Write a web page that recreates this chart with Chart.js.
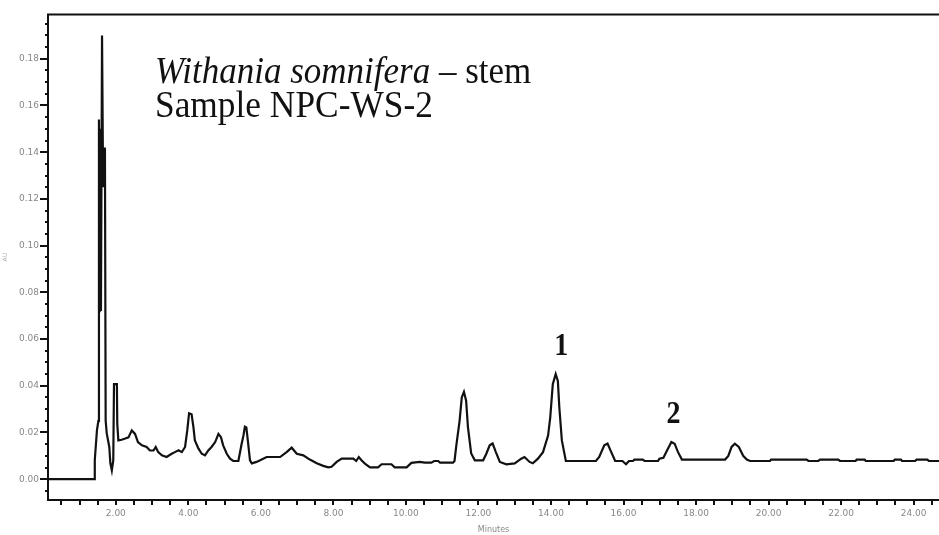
<!DOCTYPE html>
<html>
<head>
<meta charset="utf-8">
<script src="https://cdn.jsdelivr.net/npm/chart.js@4.4.1/dist/chart.umd.min.js"></script>
<style>
  html, body { margin: 0; padding: 0; background: #fff; }
  #wrap { width: 939px; height: 535px; position: relative; }
</style>
</head>
<body>
<div id="wrap"><canvas id="chrom"></canvas></div>
<script>
// Retention time (minutes) and absorbance (AU)
const times = [
  0.13, 1.40, 1.42, 1.48, 1.52, 1.535, 1.545, 1.555, 1.57, 1.59, 1.62, 1.65, 1.68, 1.70,
  1.72, 1.75, 1.82, 1.85, 1.89, 1.93, 1.95, 2.03, 2.04, 2.07, 2.16, 2.26, 2.35, 2.44,
  2.53, 2.61, 2.72, 2.85, 2.94, 3.04, 3.10, 3.17, 3.27, 3.40, 3.54, 3.63, 3.73, 3.82,
  3.91, 3.97, 4.02, 4.09, 4.14, 4.18, 4.28, 4.37, 4.46, 4.55, 4.64, 4.74, 4.83, 4.90,
  4.96, 5.06, 5.15, 5.24, 5.38, 5.47, 5.52, 5.56, 5.60, 5.65, 5.70, 5.75, 5.88, 5.98,
  6.16, 6.53, 6.71, 6.85, 6.99, 7.17, 7.35, 7.54, 7.72, 7.86, 7.95, 8.09, 8.23, 8.55,
  8.63, 8.70, 8.78, 8.87, 9.01, 9.23, 9.33, 9.60, 9.69, 10.02, 10.15, 10.38, 10.52, 10.70,
  10.78, 10.89, 10.94, 11.30, 11.34, 11.39, 11.48, 11.54, 11.60, 11.66, 11.71, 11.80, 11.90, 12.13,
  12.22, 12.31, 12.39, 12.48, 12.59, 12.77, 13.00, 13.18, 13.27, 13.41, 13.50, 13.64, 13.78, 13.92,
  13.98, 14.05, 14.13, 14.19, 14.23, 14.30, 14.41, 15.24, 15.33, 15.47, 15.56, 15.65, 15.77, 15.97,
  16.07, 16.15, 16.26, 16.30, 16.53, 16.58, 16.95, 16.99, 17.10, 17.20, 17.32, 17.41, 17.50, 17.61,
  18.80, 18.89, 18.98, 19.07, 19.18, 19.30, 19.40, 19.49, 20.04, 20.07, 21.05, 21.10, 21.37, 21.42,
  21.92, 21.97, 22.40, 22.43, 22.65, 22.68, 23.45, 23.48, 23.65, 23.68, 24.04, 24.08, 24.38, 24.42,
  24.70
];
const absorbance = [
  0, 0, 0.0081, 0.021, 0.025, 0.154, 0.072, 0.150, 0.090, 0.072, 0.190, 0.125, 0.135, 0.142,
  0.025, 0.0196, 0.0138, 0.0068, 0.0038, 0.0081, 0.0407, 0.0407, 0.0238, 0.0166, 0.0169, 0.0174, 0.0179, 0.0209,
  0.0194, 0.0159, 0.0145, 0.0138, 0.0123, 0.0123, 0.0138, 0.0116, 0.0102, 0.0095, 0.0109, 0.0116, 0.0124, 0.0116,
  0.0138, 0.0209, 0.0282, 0.0278, 0.0223, 0.0166, 0.0131, 0.0109, 0.0102, 0.0123, 0.0138, 0.0159, 0.0194, 0.0180,
  0.0145, 0.0109, 0.0088, 0.0078, 0.0078, 0.0152, 0.0187, 0.0225, 0.0222, 0.0152, 0.0081, 0.0068, 0.0074, 0.0081,
  0.0095, 0.0095, 0.0116, 0.0135, 0.0109, 0.0102, 0.0084, 0.0068, 0.0057, 0.0051, 0.0053, 0.0074, 0.0088, 0.0088,
  0.0078, 0.0095, 0.0080, 0.0067, 0.0051, 0.0051, 0.0064, 0.0064, 0.0051, 0.0051, 0.0070, 0.0074, 0.0071, 0.0071,
  0.0078, 0.0078, 0.0071, 0.0071, 0.0078, 0.0145, 0.0250, 0.0350, 0.0374, 0.0336, 0.0223, 0.0110, 0.0081, 0.0081,
  0.0110, 0.0145, 0.0153, 0.0116, 0.0074, 0.0064, 0.0068, 0.0088, 0.0095, 0.0074, 0.0068, 0.0088, 0.0116, 0.0187,
  0.0265, 0.0407, 0.0450, 0.0421, 0.0308, 0.0166, 0.0078, 0.0078, 0.0095, 0.0145, 0.0153, 0.0120, 0.0078, 0.0078,
  0.0064, 0.0078, 0.0078, 0.0084, 0.0084, 0.0078, 0.0078, 0.0088, 0.0092, 0.0123, 0.0159, 0.0152, 0.0117, 0.0084,
  0.0084, 0.0100, 0.0138, 0.0152, 0.0138, 0.0100, 0.0084, 0.0078, 0.0078, 0.0084, 0.0084, 0.0078, 0.0078, 0.0084,
  0.0084, 0.0078, 0.0078, 0.0084, 0.0084, 0.0078, 0.0078, 0.0084, 0.0084, 0.0078, 0.0078, 0.0084, 0.0084, 0.0078,
  0.0078
];

// Peak annotations (label, time, height of label baseline in AU)
const peakLabels = ['1', '2'];
const peakLabelTimes = [14.28, 17.38];
const peakLabelLevels = [0.053, 0.024];

const titleItalic = 'Withania somnifera';
const titleRest = ' \u2013 stem';
const subtitle = 'Sample NPC-WS-2';

const X_MIN = 0.13, X_MAX = 24.7;
const Y_MIN = -0.0089, Y_MAX = 0.199;

const points = times.map((t, i) => ({ x: t, y: absorbance[i] }));

const serif = '"Liberation Serif", "Times New Roman", serif';
const sans = '"DejaVu Sans", Arial, sans-serif';

// Frame, major/minor tick marks and the text overlays
const chromPlugin = {
  id: 'chromFrame',
  afterDraw(chart) {
    const ctx = chart.ctx;
    const a = chart.chartArea;
    const xs = chart.scales.x, ys = chart.scales.y;
    ctx.save();
    ctx.strokeStyle = '#111';
    ctx.lineWidth = 2;
    ctx.beginPath();
    ctx.moveTo(a.left, a.bottom); ctx.lineTo(a.right, a.bottom);
    ctx.moveTo(a.left, a.top); ctx.lineTo(a.right, a.top);
    ctx.moveTo(a.left, a.top - 1); ctx.lineTo(a.left, a.bottom + 1);
    ctx.stroke();

    // y ticks every 0.005, longer every 0.02
    ctx.beginPath();
    for (let k = -1; k <= 39; k++) {
      const v = k * 0.005;
      if (v < Y_MIN || v > Y_MAX) continue;
      const py = Math.round(ys.getPixelForValue(v));
      const len = (k % 4 === 0) ? 8 : 3;
      ctx.moveTo(a.left - len, py); ctx.lineTo(a.left, py);
    }
    // x ticks every 0.5 min
    for (let k = 1; k <= 49; k++) {
      const v = k * 0.5;
      if (v > X_MAX) continue;
      const px = Math.round(xs.getPixelForValue(v));
      ctx.moveTo(px, a.bottom); ctx.lineTo(px, a.bottom + 5);
    }
    ctx.stroke();

    // title block
    ctx.fillStyle = '#111';
    ctx.textBaseline = 'alphabetic';
    ctx.textAlign = 'left';
    ctx.save();
    ctx.translate(155, 83);
    ctx.scale(1, 1.1);
    ctx.font = 'italic 35px ' + serif;
    ctx.fillText(titleItalic, 0, 0);
    const w = ctx.measureText(titleItalic).width;
    ctx.font = '35px ' + serif;
    ctx.fillText(titleRest, w, 0);
    ctx.restore();
    ctx.save();
    ctx.translate(155, 117);
    ctx.scale(1.01, 1.1);
    ctx.font = '35px ' + serif;
    ctx.fillText(subtitle, 0, 0);
    ctx.restore();

    // peak numbers
    ctx.textAlign = 'center';
    peakLabels.forEach((lab, i) => {
      ctx.save();
      ctx.translate(xs.getPixelForValue(peakLabelTimes[i]), ys.getPixelForValue(peakLabelLevels[i]));
      ctx.scale(1, 1.12);
      ctx.font = 'bold 28px ' + serif;
      ctx.fillText(lab, 0, 0);
      ctx.restore();
    });
    ctx.restore();
  }
};

const chrom = new Chart(document.getElementById('chrom'), {
  type: 'line',
  data: {
    datasets: [{
      data: points,
      borderColor: '#111',
      borderWidth: 2.2,
      pointRadius: 0,
      tension: 0,
      fill: false
    }]
  },
  options: {
    responsive: true,
    maintainAspectRatio: false,
    animation: false,
    layout: { padding: { top: 11, right: 0, left: 0, bottom: 0 } },
    plugins: {
      legend: { display: false },
      tooltip: { enabled: false }
    },
    scales: {
      x: {
        type: 'linear',
        min: X_MIN,
        max: X_MAX,
        border: { display: false },
        grid: { display: false, drawTicks: false },
        ticks: {
          stepSize: 2,
          includeBounds: false,
          maxRotation: 0,
          padding: 8,
          color: '#888',
          font: { family: sans, size: 9 },
          callback: (v) => v.toFixed(2)
        },
        title: {
          display: true,
          text: 'Minutes',
          color: '#888',
          padding: { top: 0, bottom: 0 },
          font: { family: sans, size: 8 }
        },
        afterFit: (s) => { s.height = 35; }
      },
      y: {
        min: Y_MIN,
        max: Y_MAX,
        border: { display: false },
        grid: { display: false, drawTicks: false },
        ticks: {
          stepSize: 0.02,
          includeBounds: false,
          padding: 9,
          color: '#888',
          font: { family: sans, size: 9 },
          callback: (v) => v.toFixed(2)
        },
        title: {
          display: true,
          text: 'AU',
          color: '#aaa',
          padding: { top: 2, bottom: 0 },
          font: { family: sans, size: 6 }
        },
        afterFit: (s) => { s.width = 48; }
      }
    }
  },
  plugins: [chromPlugin]
});
</script>
</body>
</html>
